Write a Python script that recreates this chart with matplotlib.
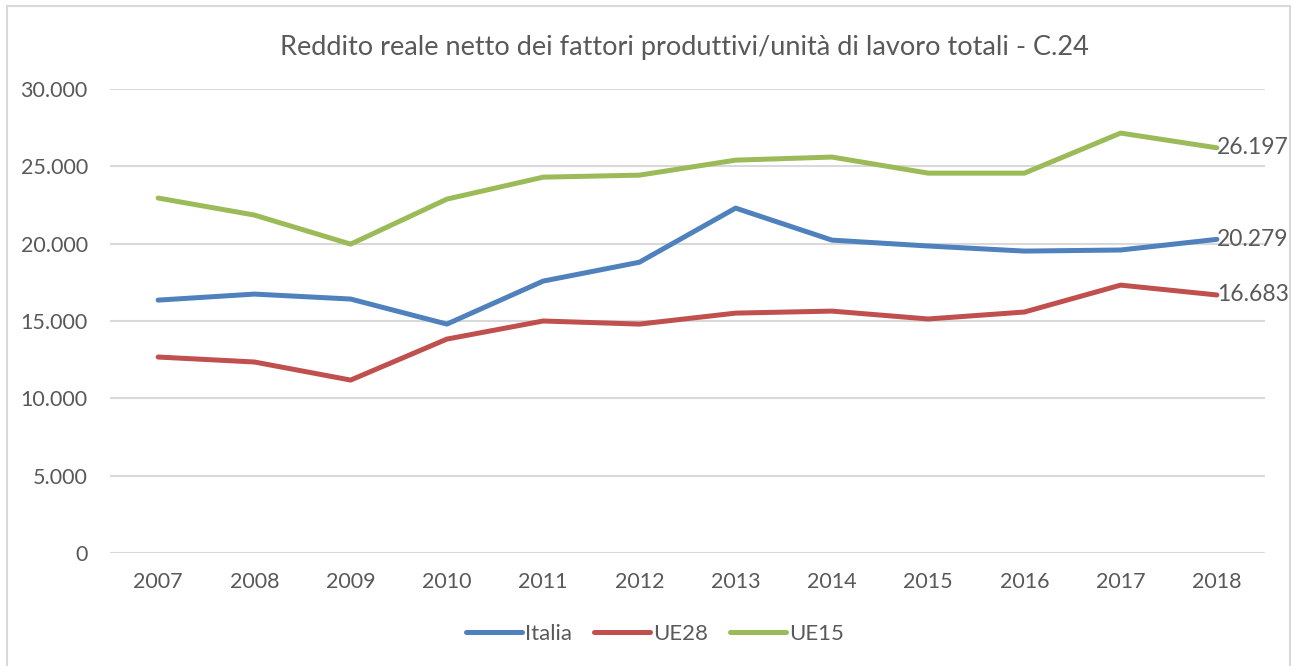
import matplotlib.pyplot as plt
from matplotlib.ticker import FuncFormatter
from matplotlib.patches import Rectangle

plt.rcParams['font.family'] = ['Lato', 'DejaVu Sans']

anni = ['2007', '2008', '2009', '2010', '2011', '2012',
        '2013', '2014', '2015', '2016', '2017', '2018']
italia = [16350, 16740, 16420, 14800, 17580, 18800,
          22300, 20230, 19850, 19520, 19590, 20279]
ue28 = [12670, 12350, 11180, 13830, 15000, 14800,
        15510, 15640, 15130, 15580, 17320, 16683]
ue15 = [22950, 21850, 19970, 22880, 24300, 24430,
        25400, 25600, 24560, 24560, 27150, 26197]

grigio = '#595959'

fig = plt.figure(figsize=(12.98, 6.66), dpi=100)
ax = fig.add_axes([110 / 1298, 1 - 553 / 666, 1155 / 1298, 464 / 666])

# bordo esterno del grafico
fig.patches.append(Rectangle((7 / 1298, -0.01), 1283 / 1298, 1 - 6 / 666 + 0.01,
                             transform=fig.transFigure, fill=False,
                             edgecolor='#d9d9d9', linewidth=1.5))

x = range(len(anni))
serie = [('Italia', italia, '#4f81bd'),
         ('UE28', ue28, '#c0504d'),
         ('UE15', ue15, '#9bbb59')]
for nome, valori, colore in serie:
    ax.plot(x, valori, color=colore, linewidth=3.6, label=nome,
            solid_capstyle='round', solid_joinstyle='round', zorder=3)
    v = valori[-1]
    ax.text(len(anni) - 1, v, f'{v:,}'.replace(',', '.'), color=grigio,
            fontsize=16.5, va='center', ha='left', zorder=4)

ax.set_xlim(-0.5, len(anni) - 0.5)
ax.set_ylim(0, 30000)
ax.set_yticks(range(0, 30001, 5000))
ax.yaxis.set_major_formatter(FuncFormatter(lambda v, p: f'{int(v):,}'.replace(',', '.')))
ax.set_xticks(list(x))
ax.set_xticklabels(anni)

ax.grid(axis='y', color='#d9d9d9', linewidth=1.5)
ax.set_axisbelow(True)
for s in ax.spines.values():
    s.set_visible(False)
ax.tick_params(length=0, labelsize=15.5, colors=grigio)
ax.tick_params(axis='x', pad=14)
ax.tick_params(axis='y', pad=16)

fig.text(684 / 1298, 1 - 48 / 666, 'Reddito reale netto dei fattori produttivi/unità di lavoro totali - C.24',
         ha='center', va='center', fontsize=19.5, color=grigio)

leg = ax.legend(loc='center', bbox_to_anchor=(655 / 1298, 1 - 634 / 666),
                bbox_transform=fig.transFigure, ncol=3, frameon=False,
                fontsize=16, handlelength=2.5, handletextpad=0.15, columnspacing=1.0)
for t in leg.get_texts():
    t.set_color(grigio)

fig.savefig('out.png', dpi=100, facecolor='white')
